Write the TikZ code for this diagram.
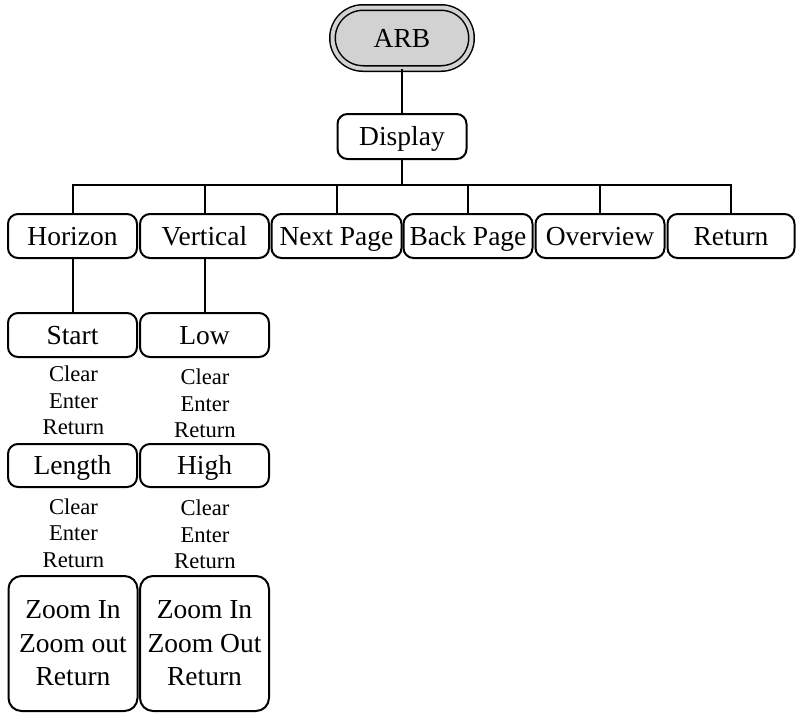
\documentclass[tikz,border=0pt]{standalone}
\usepackage{fontspec}
\setmainfont{Liberation Serif}
\usetikzlibrary{shapes.misc}
\newcommand\bigtxt{\fontsize{27.5}{33.5}\selectfont}
\newcommand\smalltxt{\fontsize{22.6}{26.5}\selectfont}
\tikzset{
  box/.style={draw, line width=2pt, rounded corners=10pt, minimum width=129pt,
    minimum height=44pt, inner sep=0pt, font=\bigtxt, text height=18.5pt, text depth=0.5pt},
  tallbox/.style={draw, line width=2pt, rounded corners=13pt, minimum width=129pt,
    minimum height=135pt, inner sep=0pt, font=\bigtxt, align=center},
  opts/.style={inner sep=0pt, font=\smalltxt, align=center},
  link/.style={line width=2pt},
}
\begin{document}
\begin{tikzpicture}[x=1pt,y=-1pt]
\useasboundingbox (0,0) rectangle (796,713);
% root
\node[rounded rectangle, draw, line width=1.5pt, double=gray!35, double distance=4pt,
  fill=gray!35, minimum width=139pt, minimum height=61pt, inner sep=0pt,
  font=\bigtxt, text height=18.5pt, text depth=0.5pt] (arb) at (402,38) {ARB};
\node[box, minimum height=45pt] (display) at (402,136.5) {Display};
% level 1
\node[box] (horizon)  at (72.5,236)  {Horizon};
\node[box] (vertical) at (204.5,236) {Vertical};
\node[box, minimum width=130pt] (next) at (336.5,236) {Next Page};
\node[box, minimum width=129pt] (back) at (468,236) {Back Page};
\node[box] (overview) at (600,236)   {Overview};
\node[box, minimum width=127pt] (ret) at (731,236) {Return};
\coordinate (bus) at (0,185);
% level 2
\node[box] (start)  at (72.5,335)  {Start};
\node[box] (low)    at (204.5,335) {Low};
\node[opts] (optA)  at (73.5,400.5) {Clear\\Enter\\Return};
\node[opts] (optB)  at (205,403.5) {Clear\\Enter\\Return};
\node[box, minimum height=43pt] (length) at (72.5,465.5) {Length};
\node[box, minimum height=43pt] (high)   at (204.5,465.5) {High};
\node[opts] (optC)  at (73.5,533)   {Clear\\Enter\\Return};
\node[opts] (optD)  at (205,534.5)  {Clear\\Enter\\Return};
\node[tallbox] (zoomA) at (73,643.5)   {Zoom In\\Zoom out\\Return};
\node[tallbox] (zoomB) at (204.5,643.5) {Zoom In\\Zoom Out\\Return};
% connectors
\draw[link] (arb.south) -- (display.north);
\draw[link] (display.south) -- (display.south |- bus);
\draw[link] (horizon.north) -- (horizon.north |- bus) -- (ret.north |- bus) -- (ret.north);
\draw[link] (vertical.north) -- (vertical.north |- bus);
\draw[link] (next.north) -- (next.north |- bus);
\draw[link] (back.north) -- (back.north |- bus);
\draw[link] (overview.north) -- (overview.north |- bus);
\draw[link] (horizon.south) -- (start.north);
\draw[link] (vertical.south) -- (low.north);
\end{tikzpicture}
\end{document}
